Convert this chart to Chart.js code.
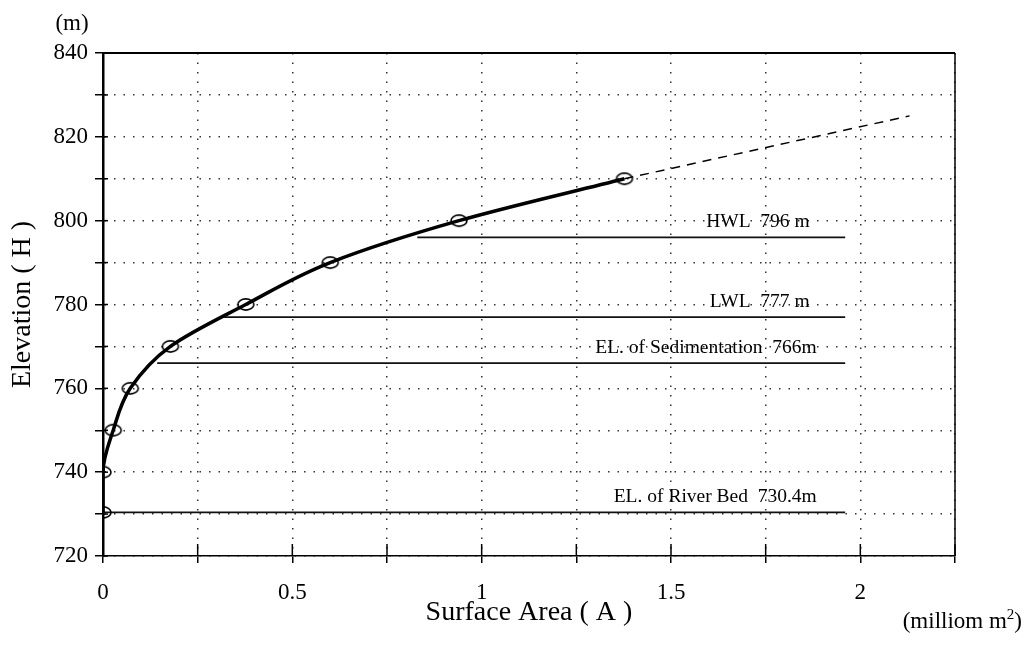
<!DOCTYPE html>
<html><head><meta charset="utf-8">
<script src="https://cdn.jsdelivr.net/npm/chart.js@4.4.1/dist/chart.umd.min.js"></script>
<style>html,body{margin:0;padding:0;background:#fff;} canvas{display:block;}</style>
</head><body>
<canvas id="c" width="1029" height="645"></canvas>
<script>
// ---- data ----
const areaValues = [0, 0, 0.027, 0.072, 0.178, 0.377, 0.60, 0.94, 1.377];      // million m2
const elevationValues = [730.4, 740, 750, 760, 770, 780, 790, 800, 810];      // m
const extensionArea = [1.377, 2.13];
const extensionElev = [810, 825];
const levelNames = ['HWL  796 m', 'LWL  777 m', 'EL. of Sedimentation  766m', 'EL. of River Bed  730.4m'];
const levelValues = [796, 777, 766, 730.4];
const levelStartArea = [0.83, 0.316, 0.143, 0];
const levelEndArea = [1.96, 1.96, 1.96, 1.96];
const labelRightArea = [1.866, 1.866, 1.885, 1.885];
const xTickLabels = [0, 0.5, 1, 1.5, 2];
const yTickLabels = [720, 740, 760, 780, 800, 820, 840];

const FONT = '"Liberation Serif", "Times New Roman", serif';

function ellipseMarker() {
  const c = document.createElement('canvas');
  c.width = 20; c.height = 15;
  const g = c.getContext('2d');
  g.strokeStyle = '#000'; g.lineWidth = 1.6;
  g.beginPath(); g.ellipse(10, 7.5, 8, 5.6, 0, 0, 2 * Math.PI); g.stroke();
  return c;
}

const datasets = [
  {
    label: 'H-A curve',
    data: areaValues.map((a, i) => ({x: a, y: elevationValues[i]})),
    indexAxis: 'y',
    cubicInterpolationMode: 'monotone',
    borderColor: '#000', borderWidth: 3.5, fill: false,
    pointStyle: ellipseMarker(), pointRadius: 8, pointHoverRadius: 8
  },
  {
    label: 'extension',
    data: extensionArea.map((a, i) => ({x: a, y: extensionElev[i]})),
    borderColor: '#000', borderWidth: 1.5, borderDash: [9, 7], pointRadius: 0, fill: false
  }
];
levelValues.forEach((v, i) => {
  datasets.push({
    label: levelNames[i],
    data: [{x: levelStartArea[i], y: v}, {x: levelEndArea[i], y: v}],
    borderColor: '#111', borderWidth: 1.8, pointRadius: 0, fill: false
  });
});

const decor = {
  id: 'decor',
  beforeDatasetsDraw(chart) {
    const {ctx, chartArea: a, scales: {x, y}} = chart;
    ctx.save();
    ctx.strokeStyle = '#000';
    ctx.lineWidth = 2;
    ctx.beginPath(); ctx.moveTo(a.left, a.top); ctx.lineTo(a.right, a.top); ctx.stroke();
    ctx.lineWidth = 1.5;
    ctx.beginPath(); ctx.moveTo(a.right, a.top); ctx.lineTo(a.right, a.bottom); ctx.stroke();
    x.ticks.forEach(t => {
      const px = x.getPixelForValue(t.value);
      ctx.beginPath(); ctx.moveTo(px, a.bottom); ctx.lineTo(px, a.bottom - 12); ctx.stroke();
    });
    y.ticks.forEach(t => {
      const py = y.getPixelForValue(t.value);
      ctx.beginPath(); ctx.moveTo(a.left, py); ctx.lineTo(a.left + 5, py); ctx.stroke();
    });
    ctx.restore();
  },
  afterDatasetsDraw(chart) {
    const {ctx, scales: {x, y}} = chart;
    ctx.save();
    ctx.fillStyle = '#000';
    ctx.font = '19.5px ' + FONT;
    ctx.textAlign = 'right'; ctx.textBaseline = 'alphabetic';
    levelNames.forEach((t, i) => {
      ctx.fillText(t, x.getPixelForValue(labelRightArea[i]), y.getPixelForValue(levelValues[i]) - 10);
    });
    ctx.font = '23px ' + FONT;
    ctx.textAlign = 'center'; ctx.textBaseline = 'middle';
    ctx.fillText('(m)', 72, 24);
    ctx.textAlign = 'left'; ctx.textBaseline = 'alphabetic';
    const p1 = '(milliom m', p2 = '2', p3 = ')';
    ctx.font = '23px ' + FONT; const w1 = ctx.measureText(p1).width, w3 = ctx.measureText(p3).width;
    ctx.font = '15px ' + FONT; const w2 = ctx.measureText(p2).width;
    const sx = 1022 - (w1 + w2 + w3);
    ctx.font = '23px ' + FONT; ctx.fillText(p1, sx, 628);
    ctx.font = '15px ' + FONT; ctx.fillText(p2, sx + w1, 619);
    ctx.font = '23px ' + FONT; ctx.fillText(p3, sx + w1 + w2, 628);
    ctx.restore();
  }
};

const dotted = {display: true, color: '#000', dash: [1.5, 8]};

new Chart(document.getElementById('c'), {
  type: 'line',
  data: {datasets},
  options: {
    responsive: false, animation: false,
    layout: {padding: {top: 53, right: 74, left: 0, bottom: 0}},
    plugins: {legend: {display: false}, tooltip: {enabled: false}},
    scales: {
      x: {
        type: 'linear', min: 0, max: 2.25,
        afterFit: s => { s.height = 89; },
        ticks: {
          stepSize: 0.25, autoSkip: false, maxRotation: 0, padding: 16, color: '#000',
          font: {family: FONT, size: 23},
          callback: v => xTickLabels.some(t => Math.abs(t - v) < 1e-9) ? String(v) : ''
        },
        grid: {
          color: '#333', lineWidth: 1.5, drawTicks: true, tickLength: 7,
          tickColor: '#000', tickWidth: 1.5, tickBorderDash: []
        },
        border: {display: true, color: '#000', width: 1.5, dash: [1.5, 8]},
        title: {display: true, text: 'Surface Area ( A )', color: '#000', font: {family: FONT, size: 28}, padding: {top: 0, bottom: 16}}
      },
      y: {
        type: 'linear', min: 720, max: 840,
        afterFit: s => { s.width = 103; },
        ticks: {
          stepSize: 10, autoSkip: false, padding: 7, color: '#000',
          font: {family: FONT, size: 23},
          callback: v => yTickLabels.includes(v) ? String(v) : ''
        },
        grid: {
          color: '#333', lineWidth: 1.5, drawTicks: true, tickLength: 8,
          tickColor: '#000', tickWidth: 1.5, tickBorderDash: []
        },
        border: {display: true, color: '#000', width: 2.5, dash: [1.5, 8]},
        title: {display: true, text: 'Elevation ( H )', color: '#000', font: {family: FONT, size: 28}, padding: {top: 6, bottom: 0}}
      }
    }
  },
  plugins: [decor]
});
</script>
</body></html>
